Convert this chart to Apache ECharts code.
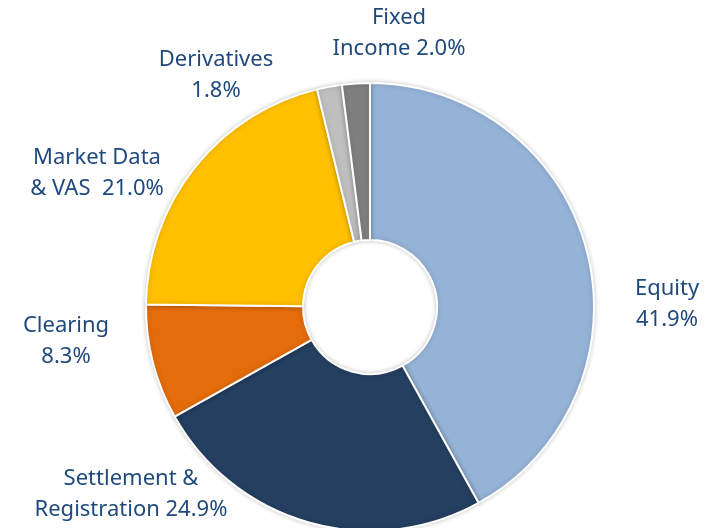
<!DOCTYPE html>
<html>
<head>
<meta charset="utf-8">
<script src="https://cdn.jsdelivr.net/npm/echarts@6/dist/echarts.min.js"></script>
<style>
  html, body { margin: 0; padding: 0; background: #fff; }
  #main { width: 713px; height: 528px; }
</style>
</head>
<body>
<div id="main"></div>
<script>
var segments = ['Equity', 'Settlement &\nRegistration', 'Clearing', 'Market Data\n& VAS ', 'Derivatives', 'Fixed\nIncome'];
var shares = [41.9, 24.9, 8.3, 21.0, 1.8, 2.0];
var colors = ['#95B3D7', '#243F60', '#E46C0A', '#FFC000', '#BFBFBF', '#7F7F7F'];

// label centres (layout only)
var labelPos = [[667, 304], [131, 494], [66, 341], [97, 173], [216, 75], [399, 33]];

var chart = echarts.init(document.getElementById('main'));

var option = {
    animation: false,
    series: [{
        type: 'pie',
        center: [370, 307],
        radius: [67, 224],
        startAngle: 90,
        clockwise: true,
        avoidLabelOverlap: false,
        itemStyle: {
            borderColor: '#fff',
            borderWidth: 2,
            shadowBlur: 5,
            shadowColor: 'rgba(0,0,0,0.2)'
        },
        label: {
            show: true,
            color: '#1F497D',
            fontFamily: 'Noto Sans',
            fontSize: 22,
            lineHeight: 31,
            align: 'center',
            formatter: function (p) {
                var sep = p.name.indexOf('\n') >= 0 ? ' ' : '\n';
                return p.name + sep + p.value.toFixed(1) + '%';
            }
        },
        labelLine: { show: false },
        labelLayout: function (p) {
            var pos = labelPos[p.dataIndex];
            return { x: pos[0], y: pos[1], align: 'center', verticalAlign: 'middle' };
        },
        emphasis: { disabled: true },
        data: segments.map(function (n, i) {
            return { name: n, value: shares[i], itemStyle: { color: colors[i] } };
        })
    }]
};

chart.setOption(option);
</script>
</body>
</html>
